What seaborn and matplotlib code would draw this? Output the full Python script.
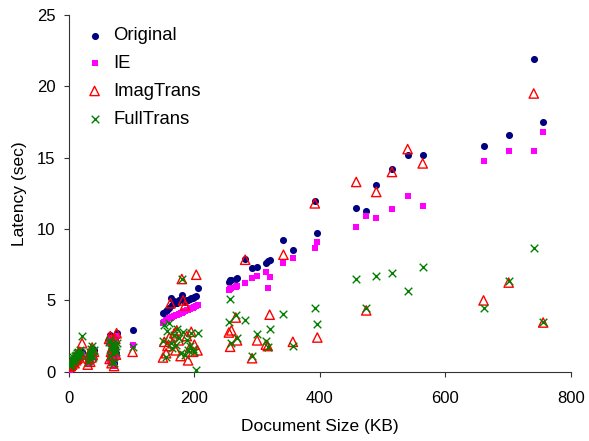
import matplotlib
matplotlib.use("Agg")
import matplotlib.pyplot as plt
import seaborn as sns
import pandas as pd

# Document sizes (KB) and latencies (sec) per configuration
size_kb = [1, 2, 3, 4, 5, 6, 7, 8, 9, 10, 11, 12, 13, 14, 15, 16, 17, 19, 21,
           30, 32, 33, 34, 35, 36, 37, 38, 40,
           64, 65, 66, 67, 68, 69, 70, 71, 72, 73, 74, 75, 76,
           101.5,
           150, 152, 155, 157, 160, 162, 165, 168, 170, 172, 175, 178, 180, 182,
           185, 188, 190, 193, 195, 198, 200, 203, 205,
           255, 257, 259, 266, 268, 281, 292, 300, 314, 317, 320, 342, 357,
           392, 396, 458, 474, 490, 515, 540, 564, 661, 701, 741, 756]

original = [0.3, 0.4, 0.5, 0.45, 0.6, 0.7, 0.55, 0.8, 0.9, 0.75, 1.0, 0.85, 1.1, 0.95, 1.2, 1.05, 1.3, 1.15, 1.4,
            0.8, 1.0, 1.2, 0.9, 1.4, 1.1, 1.6, 1.3, 1.5,
            2.2, 1.0, 2.6, 1.5, 0.8, 1.8, 1.2, 2.0, 0.6, 1.6, 2.4, 1.3, 2.7,
            2.9,
            4.1, 4.15, 4.25, 4.35, 4.5, 5.15, 4.7, 4.95, 4.8, 4.85, 5.0, 5.1, 5.4, 5.0,
            4.9, 5.0, 5.0, 5.1, 5.15, 5.2, 5.25, 5.3, 5.85,
            6.3, 6.45, 6.4, 6.5, 6.55, 7.9, 7.25, 7.35, 7.65, 7.75, 7.85, 9.2, 8.5,
            12.0, 9.75, 11.5, 11.3, 13.1, 14.2, 15.2, 15.2, 15.8, 16.6, 21.9, 17.5]

ie = [0.1, 0.2, 0.3, 0.25, 0.4, 0.5, 0.35, 0.6, 0.7, 0.55, 0.8, 0.65, 0.9, 0.75, 1.0, 0.85, 1.1, 0.95, 1.2,
      0.6, 0.8, 1.0, 0.7, 1.1, 0.9, 1.3, 1.0, 1.2,
      2.0, 0.8, 2.4, 1.3, 0.6, 1.6, 1.0, 1.8, 0.4, 1.4, 2.2, 1.1, 2.5,
      1.85,
      3.4, 3.5, 3.6, 3.65, 3.75, 3.8, 3.85, 3.9, 3.95, 4.0, 4.05, 4.1, 4.15, 4.2,
      4.25, 4.3, 4.35, 4.4, 4.45, 4.5, 4.55, 4.6, 4.65,
      5.75, 5.8, 5.9, 5.95, 6.0, 6.25, 6.55, 6.7, 7.0, 5.9, 6.65, 7.65, 7.95,
      8.7, 9.1, 10.15, 10.9, 10.8, 11.4, 12.35, 11.65, 14.75, 15.5, 15.5, 16.8]

imagtrans = [0.3, 0.5, 0.4, 0.6, 0.5, 0.8, 0.7, 0.9, 0.6, 1.0, 0.8, 1.2, 0.9, 1.1, 1.3, 1.0, 1.4, 1.2, 2.0,
             0.5, 0.9, 1.3, 0.7, 1.5, 1.0, 1.7, 1.2, 1.4,
             2.3, 0.9, 2.5, 1.4, 0.6, 1.7, 1.1, 2.1, 0.4, 1.5, 2.3, 1.2, 2.7,
             1.4,
             1.0, 2.1, 1.3, 1.8, 2.4, 4.8, 2.0, 2.7, 1.5, 2.9, 2.2, 1.1, 6.5, 5.0,
             4.65, 2.5, 0.8, 1.7, 2.8, 1.4, 1.9, 6.8, 1.5,
             2.75, 1.75, 2.9, 3.8, 2.2, 7.85, 0.95, 2.2, 1.9, 1.8, 4.0, 8.2, 2.1,
             11.8, 2.4, 13.3, 4.3, 12.6, 14.0, 15.6, 14.6, 5.0, 6.25, 19.5, 3.45]

fulltrans = [0.4, 0.6, 0.5, 0.7, 0.9, 0.8, 1.0, 0.7, 1.1, 0.9, 1.2, 1.0, 1.3, 1.1, 1.4, 1.2, 1.5, 1.3, 2.5,
             0.7, 1.1, 1.4, 0.9, 1.6, 1.2, 1.8, 1.0, 1.5,
             2.1, 1.1, 2.2, 1.6, 0.7, 1.9, 1.3, 2.0, 0.6, 1.5, 1.8, 1.4, 2.0,
             1.75,
             2.15, 3.3, 1.0, 2.85, 3.45, 2.0, 1.7, 2.6, 1.9, 3.0, 2.4, 1.3, 6.5, 2.8,
             1.2, 2.2, 1.5, 1.8, 2.7, 1.6, 1.4, 0.1, 2.7,
             3.5, 5.1, 2.0, 3.95, 2.35, 3.6, 1.1, 2.65, 2.15, 1.75, 3.0, 4.05, 1.8,
             4.5, 3.35, 6.5, 4.5, 6.7, 6.95, 5.65, 7.35, 4.5, 6.35, 8.65, 3.5]

df = pd.DataFrame({"size": size_kb, "Original": original, "IE": ie,
                   "ImagTrans": imagtrans, "FullTrans": fulltrans})

sns.set_theme(style="white")
plt.rcParams["font.family"] = ["Liberation Sans", "DejaVu Sans"]
plt.rcParams["text.color"] = "black"
plt.rcParams["axes.labelcolor"] = "black"
plt.rcParams["xtick.color"] = "black"
plt.rcParams["ytick.color"] = "black"

fig = plt.figure(figsize=(5.89, 4.41), dpi=100)
ax = fig.add_axes([0.117, 0.157, 0.852, 0.809])

sns.scatterplot(data=df, x="size", y="Original", ax=ax, marker="o", s=26,
                color="#000080", edgecolor="#000080", linewidth=0, label="Original", zorder=3)
sns.scatterplot(data=df, x="size", y="IE", ax=ax, marker="s", s=22,
                color="#FF00FF", edgecolor="#FF00FF", linewidth=0, label="IE", zorder=3)
sns.scatterplot(data=df, x="size", y="ImagTrans", ax=ax, marker="^", s=45,
                facecolor="none", edgecolor="#FF0000", linewidth=1.0, label="ImagTrans", zorder=4)
sns.scatterplot(data=df, x="size", y="FullTrans", ax=ax, marker="x", s=30,
                color="#008000", linewidth=1.0, label="FullTrans", zorder=5)

ax.set_xlim(0, 800)
ax.set_ylim(0, 25)
ax.set_xticks([0, 200, 400, 600, 800])
ax.set_yticks([0, 5, 10, 15, 20, 25])
ax.set_xlabel("Document Size (KB)", fontsize=12.5, labelpad=10)
ax.set_ylabel("Latency (sec)", fontsize=12.5, labelpad=7)
ax.tick_params(axis="both", labelsize=12, length=3.5, width=0.8, direction="out",
               color="#333333", labelcolor="black", bottom=True, left=True)
ax.tick_params(axis="y", pad=6)
ax.tick_params(axis="x", pad=10)
for side in ["top", "right"]:
    ax.spines[side].set_visible(False)
for side in ["left", "bottom"]:
    ax.spines[side].set_color("#333333")
    ax.spines[side].set_linewidth(0.8)

leg = ax.legend(loc="upper left", frameon=False, fontsize=13.3, labelspacing=0.58,
                handlelength=1.0, handletextpad=0.5, borderaxespad=0.0, borderpad=0.4,
                bbox_to_anchor=(0.018, 0.986))
for t in leg.get_texts():
    t.set_color("black")

fig.savefig("out.png", dpi=100)
